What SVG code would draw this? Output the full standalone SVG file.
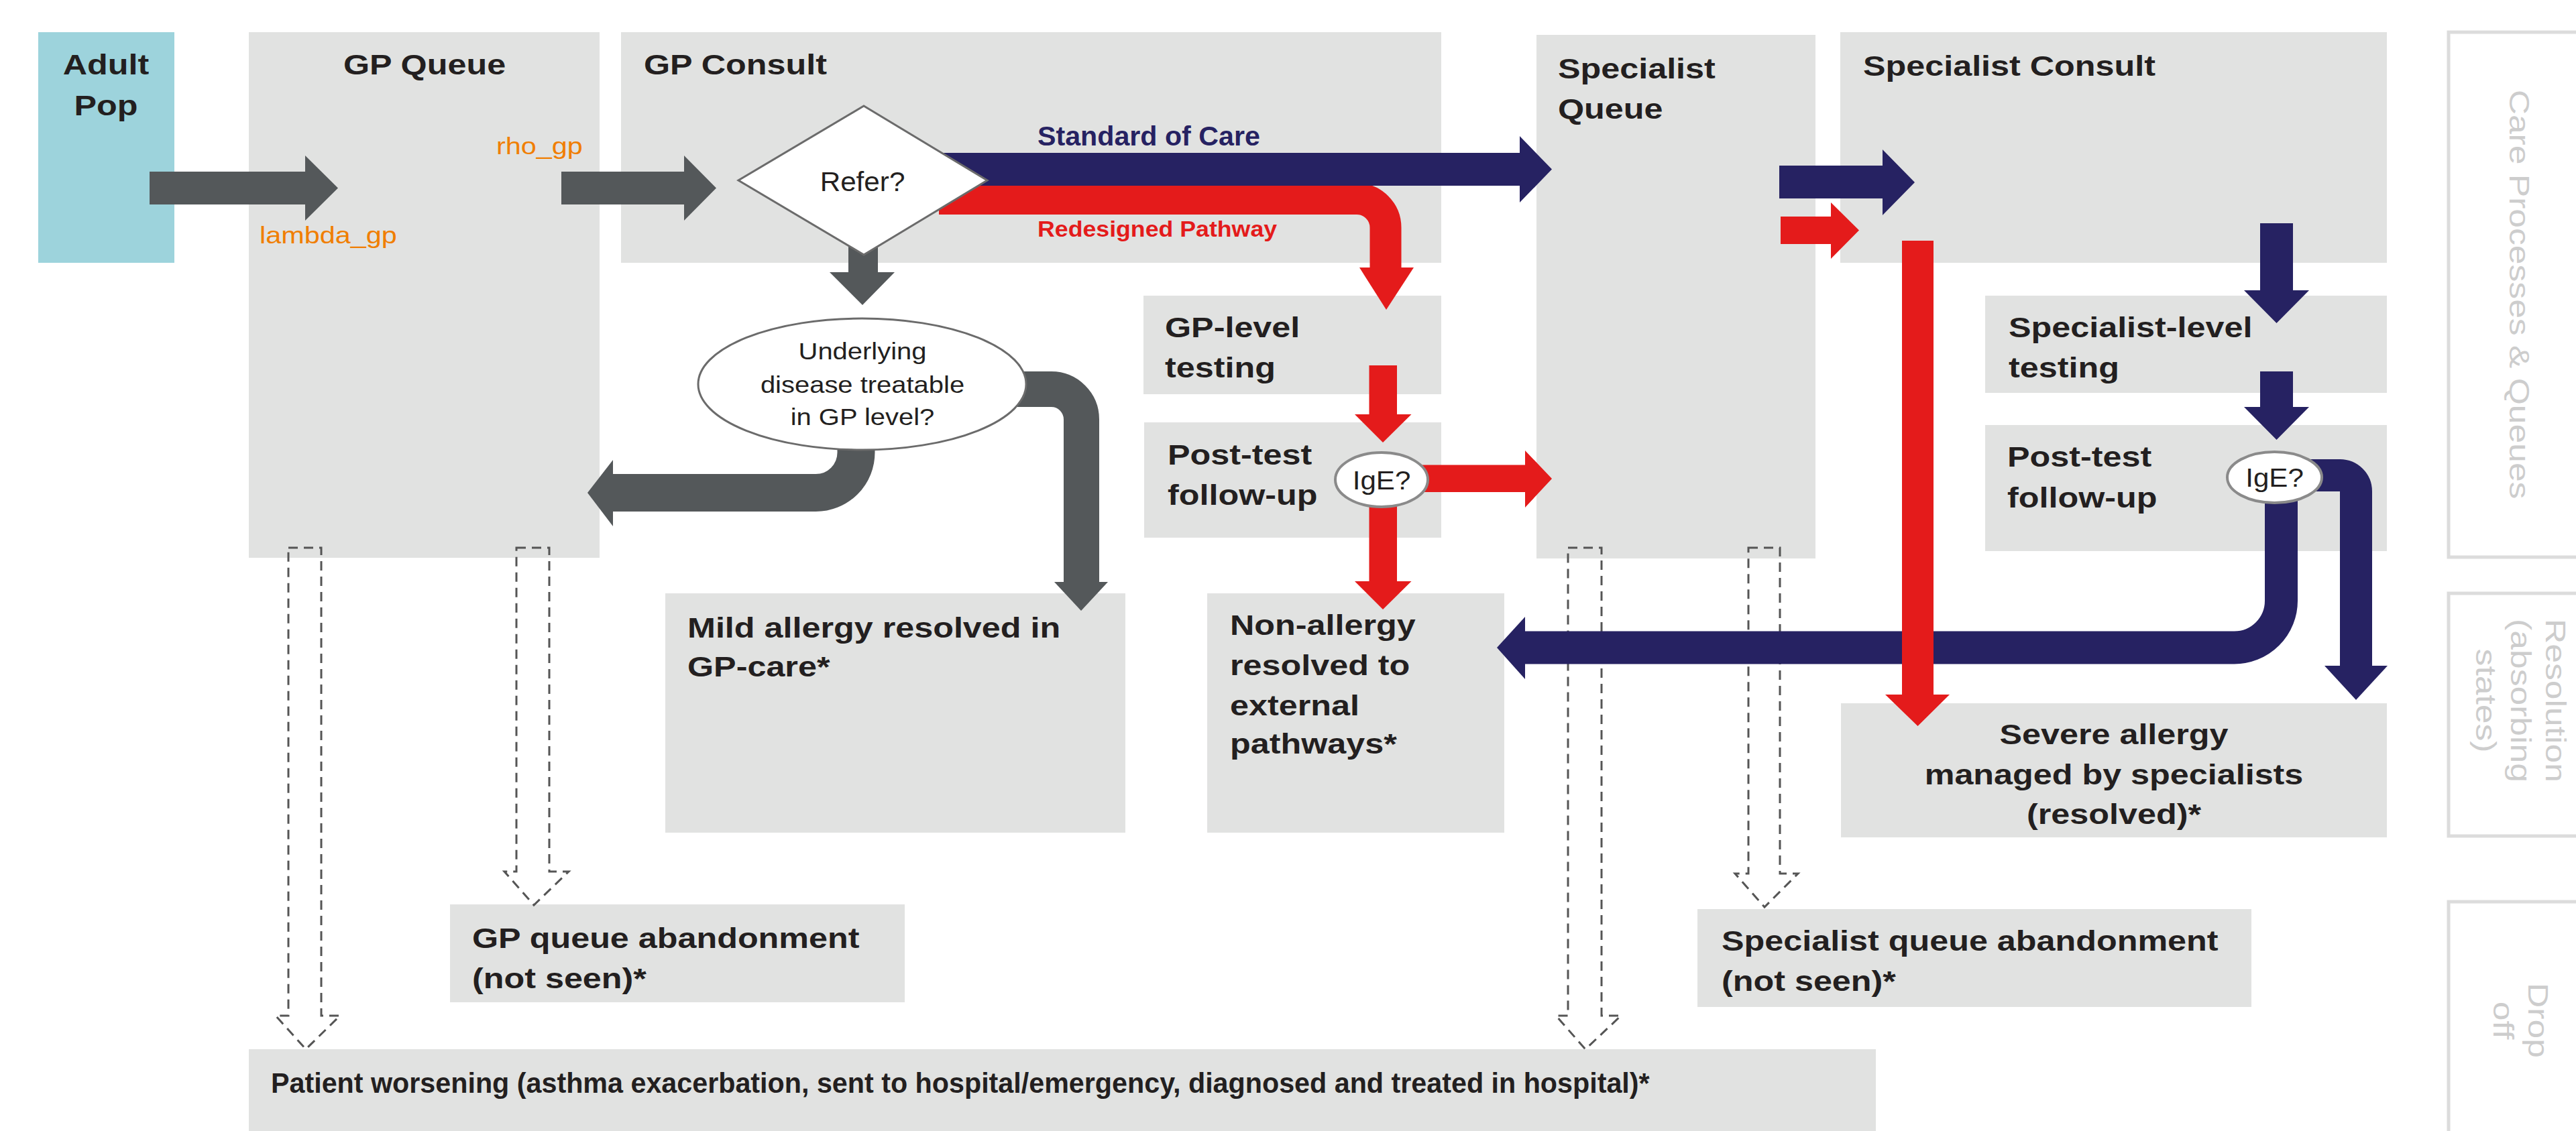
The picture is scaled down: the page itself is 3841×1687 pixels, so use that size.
<svg xmlns="http://www.w3.org/2000/svg" width="3841" height="1687" viewBox="0 0 3841 1687">
<defs>
<style>
.box{fill:#E1E2E1}
.pop{fill:#9DD3DC}
.lbl{font-family:"Liberation Sans",Arial,sans-serif;font-weight:bold;font-size:43px;fill:#231F20}
.reg{font-family:"Liberation Sans",Arial,sans-serif;fill:#231F20}
.org{font-family:"Liberation Sans",Arial,sans-serif;font-size:36px;fill:#F07E00}
.side{font-family:"Liberation Sans",Arial,sans-serif;font-size:43px;fill:#CDCDCD}
.panel{fill:#FFFFFF;stroke:#DCDCDC;stroke-width:5}
.gray{fill:#54585A}
.navy{fill:#262262}
.red{fill:#E41B1B}
.gs{fill:none;stroke:#54585A}
.ns{fill:none;stroke:#262262}
.rs{fill:none;stroke:#E41B1B}
.dash{fill:none;stroke:#555555;stroke-width:3;stroke-dasharray:14 9}
.dec{fill:#FFFFFF;stroke:#6B6B6B;stroke-width:3}
.ige{fill:#FFFFFF;stroke:#8A8A8A;stroke-width:4}
</style>
</defs>
<rect x="0" y="0" width="3841" height="1687" fill="#FFFFFF"/>

<g id="legend">
<g id="panel-care">
<rect class="panel" x="3651" y="48" width="260" height="783"/>
<text class="side" text-anchor="middle" transform="translate(3742,439) rotate(90) scale(1.2,1)">Care Processes &amp; Queues</text>
</g>
<g id="panel-resolution">
<rect class="panel" x="3651" y="885" width="260" height="362"/>
<text class="side" text-anchor="middle" transform="translate(3796,1045) rotate(90) scale(1.2,1)"><tspan x="0" y="0">Resolution</tspan><tspan x="0" y="52">(absorbing</tspan><tspan x="0" y="104">states)</tspan></text>
</g>
<g id="panel-dropoff">
<rect class="panel" x="3651" y="1345" width="260" height="400"/>
<text class="side" text-anchor="middle" transform="translate(3770,1522) rotate(90) scale(1.2,1)"><tspan x="0" y="0">Drop</tspan><tspan x="0" y="52">off</tspan></text>
</g>
</g>

<g id="adult-pop">
<rect class="pop" x="57" y="48" width="203" height="344"/>
<text class="lbl" text-anchor="middle" transform="translate(158,111) scale(1.17,1)"><tspan x="0" y="0">Adult</tspan><tspan x="0" y="61">Pop</tspan></text>
</g>
<g id="gp-queue">
<rect class="box" x="371" y="48" width="523" height="784"/>
<text class="lbl" text-anchor="middle" transform="translate(633,111) scale(1.17,1)">GP Queue</text>
</g>
<g id="gp-consult">
<rect class="box" x="926" y="48" width="1223" height="344"/>
<text class="lbl" transform="translate(960,111) scale(1.17,1)">GP Consult</text>
</g>
<g id="specialist-queue">
<rect class="box" x="2291" y="52" width="416" height="781"/>
<text class="lbl" transform="translate(2323,117) scale(1.17,1)"><tspan x="0" y="0">Specialist</tspan><tspan x="0" y="60">Queue</tspan></text>
</g>
<g id="specialist-consult">
<rect class="box" x="2744" y="48" width="815" height="344"/>
<text class="lbl" transform="translate(2778,113) scale(1.17,1)">Specialist Consult</text>
</g>
<g id="gp-testing">
<rect class="box" x="1705" y="441" width="444" height="147"/>
<text class="lbl" transform="translate(1737,503) scale(1.17,1)"><tspan x="0" y="0">GP-level</tspan><tspan x="0" y="60">testing</tspan></text>
</g>
<g id="gp-posttest">
<rect class="box" x="1706" y="630" width="443" height="172"/>
<text class="lbl" transform="translate(1741,693) scale(1.17,1)"><tspan x="0" y="0">Post-test</tspan><tspan x="0" y="60">follow-up</tspan></text>
</g>
<g id="spec-testing">
<rect class="box" x="2960" y="441" width="599" height="145"/>
<text class="lbl" transform="translate(2995,503) scale(1.17,1)"><tspan x="0" y="0">Specialist-level</tspan><tspan x="0" y="60">testing</tspan></text>
</g>
<g id="spec-posttest">
<rect class="box" x="2960" y="634" width="599" height="188"/>
<text class="lbl" transform="translate(2993,696) scale(1.17,1)"><tspan x="0" y="0">Post-test</tspan><tspan x="0" y="61">follow-up</tspan></text>
</g>
<g id="mild-allergy">
<rect class="box" x="992" y="885" width="686" height="357"/>
<text class="lbl" transform="translate(1025,951) scale(1.17,1)"><tspan x="0" y="0">Mild allergy resolved in</tspan><tspan x="0" y="58">GP-care*</tspan></text>
</g>
<g id="non-allergy">
<rect class="box" x="1800" y="885" width="443" height="357"/>
<text class="lbl" transform="translate(1834,947) scale(1.17,1)"><tspan x="0" y="0">Non-allergy</tspan><tspan x="0" y="60">resolved to</tspan><tspan x="0" y="120">external</tspan><tspan x="0" y="177">pathways*</tspan></text>
</g>
<g id="severe-allergy">
<rect class="box" x="2745" y="1049" width="814" height="200"/>
<text class="lbl" text-anchor="middle" transform="translate(3152,1110) scale(1.17,1)"><tspan x="0" y="0">Severe allergy</tspan><tspan x="0" y="60">managed by specialists</tspan><tspan x="0" y="119">(resolved)*</tspan></text>
</g>
<g id="gp-abandon">
<rect class="box" x="671" y="1349" width="678" height="146"/>
<text class="lbl" transform="translate(704,1414) scale(1.17,1)"><tspan x="0" y="0">GP queue abandonment</tspan><tspan x="0" y="60">(not seen)*</tspan></text>
</g>
<g id="spec-abandon">
<rect class="box" x="2531" y="1356" width="826" height="146"/>
<text class="lbl" transform="translate(2567,1418) scale(1.17,1)"><tspan x="0" y="0">Specialist queue abandonment</tspan><tspan x="0" y="60">(not seen)*</tspan></text>
</g>
<g id="patient-worsening">
<rect class="box" x="371" y="1565" width="2426" height="122"/>
<text class="lbl" transform="translate(404,1630) scale(0.96,1)">Patient worsening (asthma exacerbation, sent to hospital/emergency, diagnosed and treated in hospital)*</text>
</g>

<g id="connectors">
<path class="dash" d="M430,817 H479 V1515 H507 L456,1565 L411,1515 H430 Z"/>
<path class="dash" d="M770,817 H819 V1300 H848 L796,1350 L752,1300 H770 Z"/>
<path class="dash" d="M2338,817 H2388 V1515 H2417 L2364,1565 L2320,1515 H2338 Z"/>
<path class="dash" d="M2607,817 H2654 V1303 H2681 L2631,1353 L2587,1303 H2607 Z"/>

<path class="gray" d="M223,256 H455 V232 L504,280.5 L455,329 V305 H223 Z"/>
<path class="gray" d="M837,256 H1020 V232 L1068,280.5 L1020,329 V305 H837 Z"/>
<path class="gray" d="M1265,340 V406 H1237 L1286,455 L1334,406 H1309 V340 Z"/>
<path class="gs" stroke-width="56" d="M1276.5,640 V675 A60,60 0 0 1 1216.5,735 H912"/>
<path class="gray" d="M914,686 L876,735 L914,785 Z"/>
<path class="gs" stroke-width="53" d="M1500,580.5 H1567.5 A45,45 0 0 1 1612.5,625.5 V870"/>
<path class="gray" d="M1572,868 L1612,911 L1652,868 Z"/>

<path class="rs" stroke-width="47" d="M1400,296.5 H2023 A43,43 0 0 1 2066,339.5 V401"/>
<path class="red" d="M2027,399 L2067,462 L2108,399 Z"/>

<path class="navy" d="M1400,228 H2266 V203 L2314,252.5 L2266,302 V277 H1400 Z"/>
<path class="navy" d="M2653,247 H2807 V223 L2855,272 L2807,321 V296 H2653 Z"/>
<path class="navy" d="M3370,333 V433 H3346 L3394.5,482 L3443,433 H3419 V333 Z"/>
<path class="navy" d="M3370,554 V607 H3346 L3394.5,656 L3443,607 H3419 V554 Z"/>
<path class="ns" stroke-width="48" d="M3440,709 H3489 A24,24 0 0 1 3513,733 V995"/>
<path class="navy" d="M3466,993 L3513,1044 L3560,993 Z"/>
<path class="ns" stroke-width="49" d="M3401.5,740 V896 A70,70 0 0 1 3331.5,966 H2272"/>
<path class="navy" d="M2274,920 L2232,966 L2274,1013 Z"/>

<path class="red" d="M2041.5,545 V618 H2020 L2062,660 L2104.5,618 H2083 V545 Z"/>
<path class="red" d="M2110,693.5 H2274 V672 L2314,714 L2274,757 V734 H2110 Z"/>
<path class="red" d="M2041.5,740 V867 H2020 L2062,909 L2104.5,867 H2083 V740 Z"/>
<path class="red" d="M2655,323 H2730 V302 L2772,343.5 L2730,386 V364 H2655 Z"/>
<path class="red" d="M2836,359 V1036 H2811 L2859.5,1083 L2907,1036 H2883 V359 Z"/>

<text class="org" transform="translate(740,230) scale(1.15,1)">rho_gp</text>
<text class="org" transform="translate(387,363) scale(1.15,1)">lambda_gp</text>
<text transform="translate(1547,217) scale(1.03,1)" style="font-family:'Liberation Sans',Arial,sans-serif;font-weight:bold;font-size:40px;fill:#262262">Standard of Care</text>
<text transform="translate(1547,353) scale(1.05,1)" style="font-family:'Liberation Sans',Arial,sans-serif;font-weight:bold;font-size:34px;fill:#E41B1B">Redesigned Pathway</text>
</g>

<g id="refer-decision">
<polygon class="dec" points="1288,158 1472,269 1288,380 1101,269"/>
<text class="reg" text-anchor="middle" font-size="41" transform="translate(1286,285) scale(1.03,1)">Refer?</text>
</g>
<g id="treatable-decision">
<ellipse class="dec" cx="1285.5" cy="573" rx="244.5" ry="98"/>
<text class="reg" text-anchor="middle" font-size="36" transform="translate(1286,536) scale(1.11,1)"><tspan x="0" y="0">Underlying</tspan><tspan x="0" y="50">disease treatable</tspan><tspan x="0" y="98">in GP level?</tspan></text>
</g>
<g id="ige-gp">
<ellipse class="ige" cx="2060" cy="715.5" rx="69" ry="40.5"/>
<text class="reg" text-anchor="middle" font-size="39" transform="translate(2060,730) scale(1.08,1)">IgE?</text>
</g>
<g id="ige-spec">
<ellipse class="ige" cx="3391.5" cy="712" rx="70.5" ry="38"/>
<text class="reg" text-anchor="middle" font-size="39" transform="translate(3391.5,726) scale(1.08,1)">IgE?</text>
</g>
</svg>
